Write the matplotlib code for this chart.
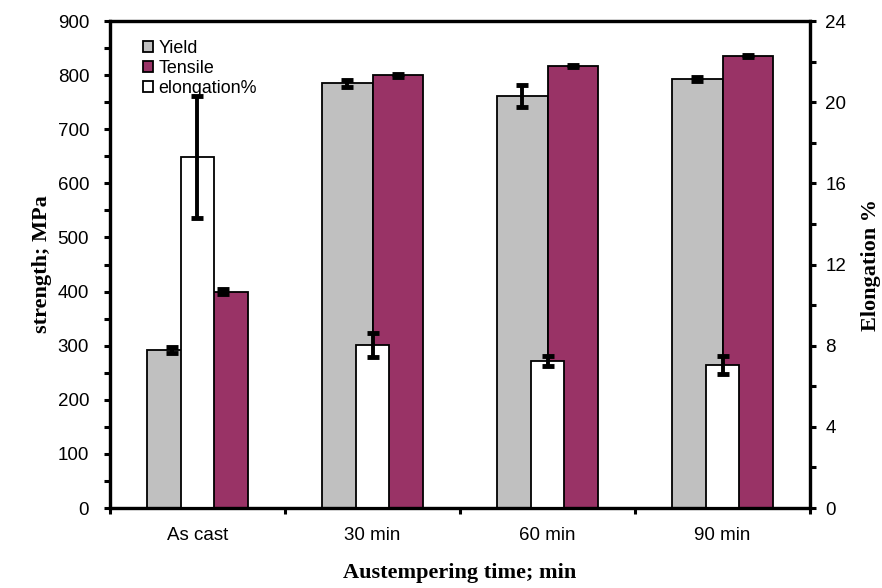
import numpy as np
import matplotlib
matplotlib.use("Agg")
import matplotlib.pyplot as plt
from matplotlib.patches import Patch
from matplotlib.ticker import MultipleLocator

categories = ["As cast", "30 min", "60 min", "90 min"]
yield_mpa = [292, 785, 762, 793]
yield_err = [6, 6, 20, 4]
tensile_mpa = [400, 800, 817, 836]
tensile_err = [5, 3, 2, 2]
elong = [17.3, 8.05, 7.25, 7.05]
elong_err = [3.0, 0.6, 0.26, 0.45]

plt.rcParams["font.family"] = ["Liberation Sans", "DejaVu Sans"]

fig = plt.figure(figsize=(8.82, 5.88), dpi=100)
ax = fig.add_axes([0.1247, 0.136, 0.7937, 0.8282])
ax2 = ax.twinx()

x = np.arange(len(categories))
w_side = 0.286
w_mid = 0.19
ekw = dict(elinewidth=2.8, capsize=4.3, capthick=3.5, ecolor="black")

ax.bar(x - w_side / 2, yield_mpa, w_side, color="#C0C0C0", edgecolor="black",
       linewidth=1.3, yerr=yield_err, error_kw=ekw, zorder=2)
ax.bar(x + w_side / 2, tensile_mpa, w_side, color="#993366", edgecolor="black",
       linewidth=1.3, yerr=tensile_err, error_kw=ekw, zorder=2)
ax2.bar(x, elong, w_mid, color="white", edgecolor="black", linewidth=1.3,
        yerr=elong_err, error_kw=ekw, zorder=2)

ax.set_xlim(-0.5, len(categories) - 0.5)
ax.set_ylim(0, 900)
ax2.set_ylim(0, 24)
ax.set_xticks(x)
ax.set_xticklabels(categories, fontsize=13.5)
ax.set_xticks(np.arange(-0.5, len(categories)), minor=True)
ax.tick_params(axis="x", which="major", length=0, pad=14)
ax.tick_params(axis="x", which="minor", length=4, width=2.2, direction="out")

ax.yaxis.set_major_locator(MultipleLocator(100))
ax.yaxis.set_minor_locator(MultipleLocator(50))
ax.tick_params(axis="y", which="major", labelsize=13.5, length=4, width=2.2, direction="out", pad=11)
ax.tick_params(axis="y", which="minor", length=4, width=2.2, direction="out")
ax2.yaxis.set_major_locator(MultipleLocator(4))
ax2.yaxis.set_minor_locator(MultipleLocator(2))
ax2.tick_params(axis="y", which="major", labelsize=13.5, length=4, width=2.2, direction="out", pad=7)
ax2.tick_params(axis="y", which="minor", length=4, width=2.2, direction="out")

for a in (ax, ax2):
    for s in a.spines.values():
        s.set_linewidth(2.3)

serif = {"family": ["Liberation Serif", "DejaVu Serif"], "weight": "bold", "size": 16}
ax.set_ylabel("strength; MPa", fontdict=serif)
ax.yaxis.set_label_coords(-0.097, 0.5)
ax.yaxis.label.set_va("center")
ax2.set_ylabel("Elongation %", fontdict=serif, rotation=90)
ax2.yaxis.set_label_coords(1.087, 0.5)
ax2.yaxis.label.set_va("center")
ax.set_xlabel("Austempering time; min", fontdict=serif)
ax.xaxis.set_label_coords(0.5, -0.1335)
ax.xaxis.label.set_va("center")

handles = [Patch(facecolor="#C0C0C0", edgecolor="black", linewidth=1.3, label="Yield"),
           Patch(facecolor="#993366", edgecolor="black", linewidth=1.3, label="Tensile"),
           Patch(facecolor="white", edgecolor="black", linewidth=1.3, label="elongation%")]
ax2.legend(handles=handles, loc="upper left", bbox_to_anchor=(0.047, 0.962), frameon=False,
           fontsize=12.9, handlelength=0.57, handleheight=0.57, handletextpad=0.3,
           labelspacing=0.17, borderaxespad=0, borderpad=0)

fig.savefig("out.png", dpi=100)
